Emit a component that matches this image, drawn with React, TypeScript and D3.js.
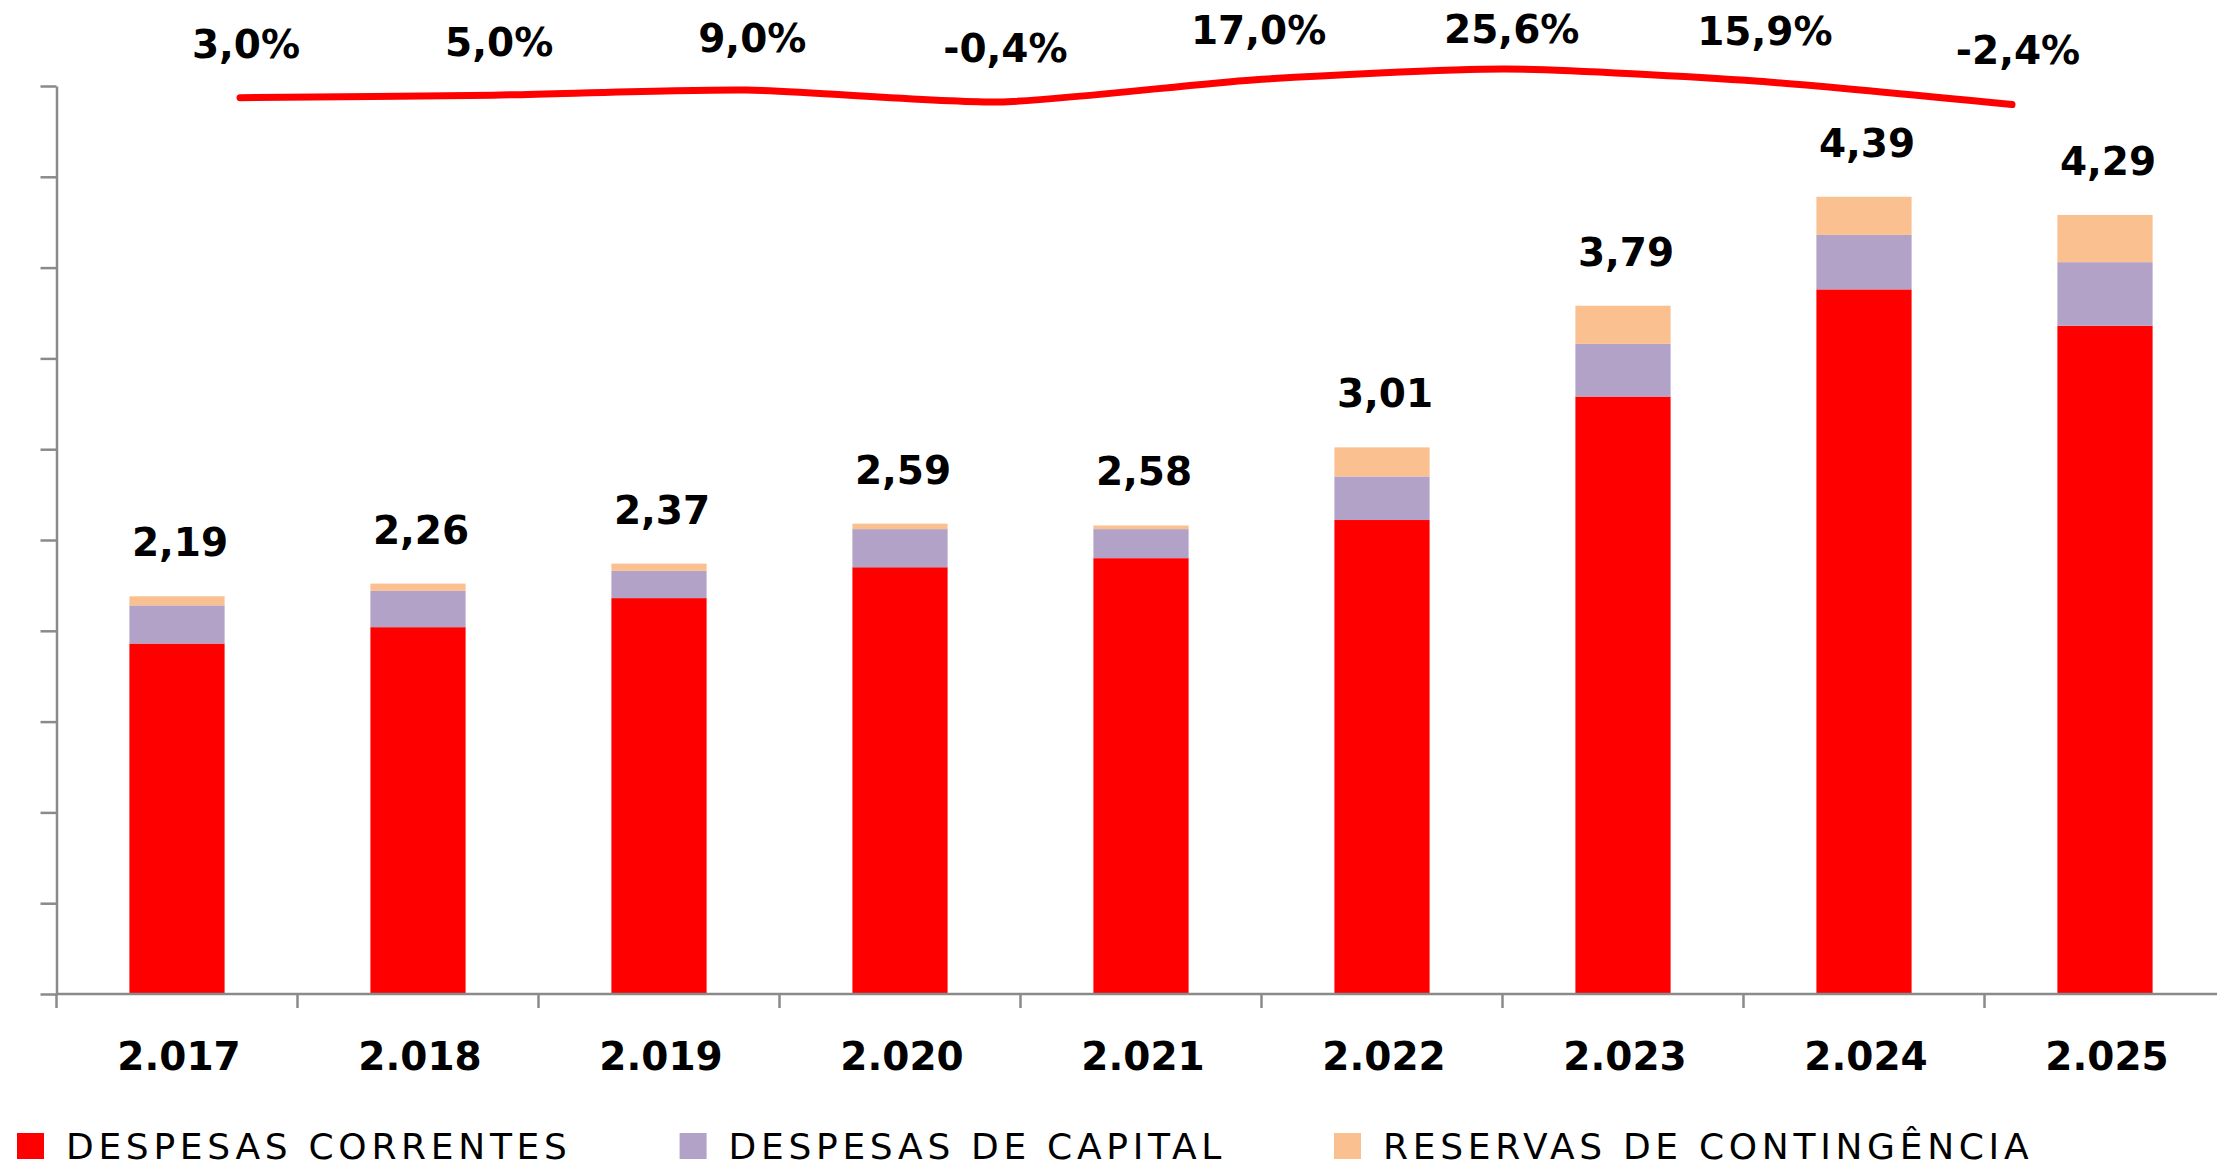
import React, { useEffect, useRef } from "react";
import * as d3 from "d3";

// Categories (years, Brazilian thousand separator as in the source)
const years = ["2.017", "2.018", "2.019", "2.020", "2.021", "2.022", "2.023", "2.024", "2.025"];

// Stacked series values (R$ bi)
const despesasCorrentes = [1.93, 2.02, 2.18, 2.35, 2.4, 2.61, 3.29, 3.88, 3.68];
const despesasCapital = [0.21, 0.2, 0.15, 0.21, 0.16, 0.24, 0.29, 0.3, 0.35];
const reservasContingencia = [0.05, 0.04, 0.04, 0.03, 0.02, 0.16, 0.21, 0.21, 0.26];
const totalLabels = ["2,19", "2,26", "2,37", "2,59", "2,58", "3,01", "3,79", "4,39", "4,29"];

// Year-over-year growth line
const growthValues = [3.0, 5.0, 9.0, -0.4, 17.0, 25.6, 15.9, -2.4];
const growthLabels = ["3,0%", "5,0%", "9,0%", "-0,4%", "17,0%", "25,6%", "15,9%", "-2,4%"];

// Y axis ticks (no labels in the source)
const yTicks = [0, 0.5, 1, 1.5, 2, 2.5, 3, 3.5, 4, 4.5, 5];

const seriesNames = ["DESPESAS CORRENTES", "DESPESAS DE CAPITAL", "RESERVAS DE CONTINGÊNCIA"];
const seriesColors = ["#ff0000", "#b3a2c7", "#fac090"];

const App: React.FC = () => {
  const svgRef = useRef<SVGSVGElement>(null);

  useEffect(() => {
    if (!svgRef.current) return;
    const W = 2217;
    const H = 1168;
    const svg = d3.select(svgRef.current);
    svg.selectAll("*").remove();
    svg.attr("width", W).attr("height", H).attr("viewBox", `0 0 ${W} ${H}`);

    svg.append("rect").attr("width", W).attr("height", H).attr("fill", "#ffffff");

    const axisColor = "#8a8a8a";
    const boldFont = "'DejaVu Sans', sans-serif";
    const originX = 56.5;
    const baseY = 994;
    const step = 241;

    const x = d3
      .scaleBand<string>()
      .domain(years)
      .range([originX, originX + step * years.length])
      .paddingInner(0.605)
      .paddingOuter(0.3025);

    const y = d3.scaleLinear().domain([0, 5]).range([baseY, 86]);

    // stack data
    const rows = years.map((yr, i) => ({
      year: yr,
      c: despesasCorrentes[i],
      k: despesasCapital[i],
      r: reservasContingencia[i],
    }));
    const stack = d3.stack<any>().keys(["c", "k", "r"]);
    const stacked = stack(rows);

    // Bars
    svg
      .append("g")
      .selectAll("g")
      .data(stacked)
      .enter()
      .append("g")
      .attr("fill", (_d, i) => seriesColors[i])
      .selectAll("rect")
      .data((d) => d)
      .enter()
      .append("rect")
      .attr("x", (d: any) => x(d.data.year) as number)
      .attr("width", x.bandwidth())
      .attr("y", (d) => y(d[1]))
      .attr("height", (d) => y(d[0]) - y(d[1]));

    // Total labels
    svg
      .append("g")
      .selectAll("text")
      .data(rows)
      .enter()
      .append("text")
      .attr("x", (d) => (x(d.year) as number) + x.bandwidth() / 2 + 3)
      .attr("y", (d) => y(d.c + d.k + d.r) - 40)
      .attr("text-anchor", "middle")
      .attr("font-family", boldFont)
      .attr("font-weight", "bold")
      .attr("font-size", 39)
      .attr("fill", "#000")
      .text((_d, i) => totalLabels[i]);

    // Y axis
    svg
      .append("g")
      .attr("transform", `translate(${originX},0)`)
      .call(
        d3
          .axisLeft(y)
          .tickValues(yTicks)
          .tickSize(16)
          .tickSizeOuter(0)
          .tickFormat(() => "")
      )
      .call((g) => g.select(".domain").attr("stroke", axisColor).attr("stroke-width", 2.5))
      .call((g) => g.selectAll(".tick line").attr("stroke", axisColor).attr("stroke-width", 2.5));

    // X axis line + ticks at band boundaries
    const gx = svg.append("g");
    gx.append("line")
      .attr("x1", originX)
      .attr("x2", W)
      .attr("y1", baseY)
      .attr("y2", baseY)
      .attr("stroke", axisColor)
      .attr("stroke-width", 2.5);
    const half = (x.step() - x.bandwidth()) / 2;
    gx.selectAll(".xtick")
      .data(years)
      .enter()
      .append("line")
      .attr("class", "xtick")
      .attr("x1", (d) => (x(d) as number) - half)
      .attr("x2", (d) => (x(d) as number) - half)
      .attr("y1", baseY)
      .attr("y2", baseY + 14)
      .attr("stroke", axisColor)
      .attr("stroke-width", 2.5);
    gx.selectAll(".xlabel")
      .data(years)
      .enter()
      .append("text")
      .attr("class", "xlabel")
      .attr("x", (d) => (x(d) as number) + x.bandwidth() / 2 + 2)
      .attr("y", 1070)
      .attr("text-anchor", "middle")
      .attr("font-family", boldFont)
      .attr("font-weight", "bold")
      .attr("font-size", 39)
      .attr("fill", "#000")
      .text((d) => d);

    // Growth line (own category scale, sits above the bars)
    const gIdx = growthValues.map((_v, i) => i);
    const xg = d3.scalePoint<number>().domain(gIdx).range([240, 2012]);
    const yg = d3.scaleLinear().domain([-0.4, 25.6]).range([102, 69]);
    // labels follow the value but are kept inside the top of the plot area
    const yLab = d3.scaleLinear().domain([-0.4, 17]).range([62, 44]);
    const line = d3
      .line<number>()
      .x((i) => xg(i) as number)
      .y((i) => yg(growthValues[i]))
      .curve(d3.curveCardinal.tension(0.35));

    svg
      .append("path")
      .datum(gIdx)
      .attr("d", line)
      .attr("fill", "none")
      .attr("stroke", "#ff0000")
      .attr("stroke-width", 7)
      .attr("stroke-linecap", "round")
      .attr("stroke-linejoin", "round");

    svg
      .append("g")
      .selectAll("text")
      .data(gIdx)
      .enter()
      .append("text")
      .attr("x", (i) => (xg(i) as number) + 6)
      .attr("y", (i) => Math.max(yLab(growthValues[i]), 43))
      .attr("text-anchor", "middle")
      .attr("font-family", boldFont)
      .attr("font-weight", "bold")
      .attr("font-size", 39)
      .attr("fill", "#000")
      .text((i) => growthLabels[i]);

    // Legend
    const legend = svg.append("g").attr("transform", "translate(17,0)");
    let cursor = 0;
    seriesNames.forEach((name, i) => {
      const item = legend.append("g").attr("transform", `translate(${cursor},0)`);
      item
        .append("rect")
        .attr("x", 0)
        .attr("y", 1133)
        .attr("width", 27)
        .attr("height", 26)
        .attr("fill", seriesColors[i]);
      const t = item
        .append("text")
        .attr("x", 49)
        .attr("y", 1159)
        .attr("font-family", "'DejaVu Sans', sans-serif")
        .attr("font-size", 36)
        .attr("letter-spacing", 4.7)
        .attr("fill", "#000")
        .text(name);
      const len = (t.node() as SVGTextElement).getComputedTextLength();
      cursor += 49 + len + 108;
    });
  }, []);

  return (
    <div style={{ position: "absolute", left: 0, top: 0, width: 2217, height: 1168 }}>
      <svg ref={svgRef} style={{ display: "block" }}></svg>
    </div>
  );
};

export default App;
